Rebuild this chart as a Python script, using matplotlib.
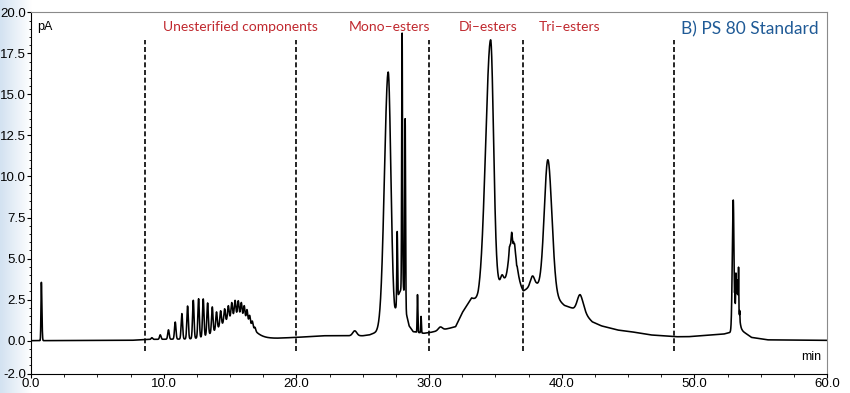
import numpy as np
import matplotlib
matplotlib.use("Agg")
import matplotlib.pyplot as plt
from matplotlib.ticker import MultipleLocator, FormatStrFormatter

# slowly varying background of the trace (min, pA)
bg_t = [0.0, 7.5, 9.0, 12.0, 17.5, 18.5, 20.0, 22.0, 23.0, 24.0, 25.0, 25.5, 26.0, 26.5,
        27.0, 27.4, 27.7, 28.05, 28.3, 28.5, 28.8, 29.6, 30.1, 31.5, 32.0, 32.5, 33.2,
        33.7, 34.6, 35.1, 35.7, 36.5, 37.1, 37.6, 38.1, 39.0, 40.2, 40.9, 41.4, 42.3,
        43.0, 44.2, 45.2, 46.7, 48.6, 49.5, 52.2, 52.7, 53.6, 54.3, 55.5, 60.0]
bg_v = [0.0, 0.02, 0.08, 0.1, 0.15, 0.15, 0.2, 0.3, 0.3, 0.3, 0.3, 0.35, 0.5, 0.75,
        1.0, 1.3, 2.8, 3.4, 1.6, 0.9, 0.55, 0.45, 0.5, 0.75, 0.85, 1.7, 2.6,
        2.4, 3.1, 3.4, 3.7, 3.7, 3.0, 3.3, 3.4, 3.0, 2.15, 1.95, 1.9, 1.15,
        0.9, 0.65, 0.55, 0.35, 0.24, 0.24, 0.4, 0.5, 0.6, 0.2, 0.05, 0.02]

# broad hump under the unesterified oligomer comb
hump_rt, hump_h, hump_sl, hump_sr = 15.6, 1.45, 1.2, 0.85

# oligomer comb (retention time, height above hump)
comb_rt = [9.11, 9.74, 10.36, 10.87, 11.37, 11.80, 12.23, 12.63, 12.98, 13.31, 13.66, 13.98,
           14.29, 14.59, 14.87, 15.13, 15.38, 15.62, 15.85, 16.07, 16.28, 16.48, 16.68, 16.88]
comb_h = [0.1, 0.27, 0.57, 1.04, 1.55, 2.0, 2.33, 2.38, 2.3, 1.95, 1.55, 1.05,
          0.9, 0.8, 0.8, 0.85, 0.9, 0.85, 0.8, 0.75, 0.7, 0.55, 0.4, 0.2]
comb_w = 0.055

# other peaks: retention time, height, left width, right width
pk_rt = [0.78, 24.4, 26.92, 27.6, 27.97, 28.2, 29.13, 29.4, 30.85, 34.64, 35.5,
         36.05, 36.15, 36.23, 36.32, 36.45, 36.6, 36.23,
         37.8, 38.96, 41.38, 52.93, 53.2, 53.05, 53.13, 53.19, 53.24, 53.28, 53.33, 53.42]
pk_h = [3.55, 0.3, 15.4, 4.3, 15.5, 11.2, 2.3, 1.0, 0.2, 15.2, 0.4,
        0.25, -0.2, 0.3, -0.25, 0.2, -0.2, 2.6,
        0.6, 8.0, 0.9, 7.6, 2.2, 0.8, 1.6, 0.6, 1.0, 0.6, 2.4, 0.5]
pk_sl = [0.03, 0.15, 0.28, 0.03, 0.03, 0.03, 0.025, 0.025, 0.15, 0.37, 0.1,
         0.02, 0.02, 0.02, 0.02, 0.02, 0.02, 0.2,
         0.15, 0.27, 0.2, 0.07, 0.15, 0.012, 0.015, 0.012, 0.012, 0.012, 0.015, 0.012]
pk_sr = [0.04, 0.15, 0.2, 0.03, 0.03, 0.03, 0.025, 0.025, 0.15, 0.22, 0.1,
         0.02, 0.02, 0.02, 0.02, 0.02, 0.02, 0.3,
         0.15, 0.3, 0.25, 0.05, 0.15, 0.012, 0.015, 0.012, 0.012, 0.012, 0.015, 0.012]

# region markers and labels
cut_rt = [8.6, 20.0, 30.0, 37.1, 48.5]
labels = ["Unesterified components", "Mono\u2013esters", "Di\u2013esters", "Tri\u2013esters"]
label_rt = [15.8, 27.0, 34.45, 40.6]


def peak(t, rt, h, sl, sr):
    s = np.where(t < rt, sl, sr)
    return h * np.exp(-0.5 * ((t - rt) / s) ** 2)


t = np.arange(0, 60.0001, 0.004)
y = np.interp(t, bg_t, bg_v)
y = y + peak(t, hump_rt, hump_h, hump_sl, hump_sr)
for rt, h in zip(comb_rt, comb_h):
    y = y + peak(t, rt, h, comb_w, comb_w)
for rt, h, sl, sr in zip(pk_rt, pk_h, pk_sl, pk_sr):
    y = y + peak(t, rt, h, sl, sr)

plt.rcParams['font.family'] = ['Liberation Sans', 'DejaVu Sans']
fig = plt.figure(figsize=(8.5, 3.93), dpi=100)

# light blue strip on the left edge of the screenshot
bgax = fig.add_axes([0, 0, 0.037, 1])
grad = np.linspace(0, 1, 50).reshape(1, -1)
bgax.imshow(grad, aspect='auto', cmap=matplotlib.colors.LinearSegmentedColormap.from_list(
    'b', ['#d3e2f1', '#ffffff']), extent=[0, 1, 0, 1])
bgax.axis('off')

ax = fig.add_axes([0.0365, 0.0496, 0.9365, 0.9191])
ax.plot(t, y, color='black', lw=1.15)
ax.vlines(cut_rt, -0.6, 18.3, colors='black', linestyles=(0, (3, 1.6)), lw=1.2)

for s, x in zip(labels, label_rt):
    ax.text(x, 19.1, s, color='#c0282e', fontsize=10, family='Lato',
            ha='center', va='center')
ax.text(54.15, 18.95, "B) PS 80 Standard", color='#1f5a96', fontsize=12.5,
        family='Lato', ha='center', va='center')
ax.text(0.008, 0.975, "pA", transform=ax.transAxes, fontsize=9, va='top', ha='left')
ax.text(0.993, 0.03, "min", transform=ax.transAxes, fontsize=9, va='bottom', ha='right')

ax.set_xlim(0, 60)
ax.set_ylim(-2, 20)
ax.set_yticks([-2, 0, 2.5, 5, 7.5, 10, 12.5, 15, 17.5, 20])
ax.yaxis.set_minor_locator(MultipleLocator(0.5))
ax.xaxis.set_major_locator(MultipleLocator(10))
ax.xaxis.set_minor_locator(MultipleLocator(2.5))
ax.xaxis.set_major_formatter(FormatStrFormatter('%.1f'))
ax.yaxis.set_major_formatter(FormatStrFormatter('%.1f'))
ax.tick_params(which='major', length=3, width=0.8, labelsize=9.5, pad=0.5)
ax.tick_params(which='minor', length=1.8, width=0.6)
for side in ['top', 'right']:
    ax.spines[side].set_color('#8a8a8a')
ax.set_facecolor('none')

fig.savefig('out.png', dpi=100)
